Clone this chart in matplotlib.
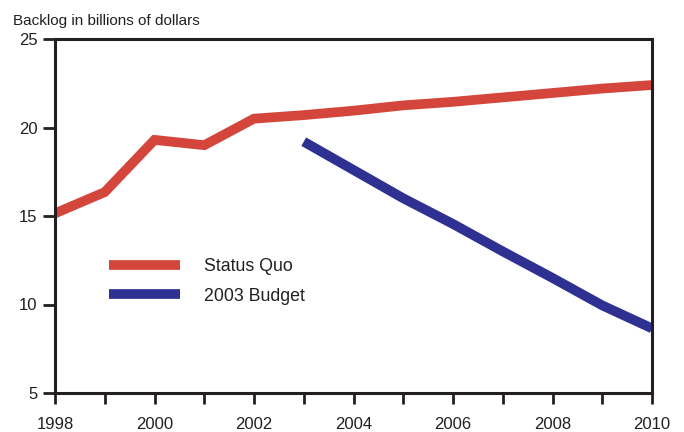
import matplotlib
matplotlib.use("Agg")
import matplotlib.pyplot as plt
from matplotlib.ticker import MultipleLocator

plt.rcParams['font.family'] = ['Liberation Sans', 'DejaVu Sans']

years_sq = [1998, 1999, 2000, 2001, 2002, 2003, 2004, 2005, 2006, 2007, 2008, 2009, 2010]
status_quo = [15.15, 16.35, 19.3, 19.0, 20.5, 20.7, 20.95, 21.25, 21.45, 21.7, 21.95, 22.2, 22.4]
years_b = [2003, 2004, 2005, 2006, 2007, 2008, 2009, 2010]
budget = [19.2, 17.6, 16.0, 14.55, 13.0, 11.5, 9.95, 8.65]
xtick_labels = [1998, 2000, 2002, 2004, 2006, 2008, 2010]
ytick_vals = [5, 10, 15, 20, 25]

red = '#d4463b'
blue = '#2e3192'
ink = '#231f20'

fig = plt.figure(figsize=(6.84, 4.32), dpi=100)
ax = fig.add_axes([55/684, 39/432, 597/684, 354/432])

ax.plot(years_sq, status_quo, color=red, lw=7, solid_capstyle='butt', solid_joinstyle='miter', label='Status Quo')
ax.plot(years_b, budget, color=blue, lw=7, solid_capstyle='butt', solid_joinstyle='miter', label='2003 Budget')

ax.set_xlim(1998, 2010)
ax.set_ylim(5, 25)
ax.set_xticks(xtick_labels)
ax.set_xticklabels([str(v) for v in xtick_labels])
ax.xaxis.set_minor_locator(MultipleLocator(1))
ax.set_yticks(ytick_vals)

for s in ax.spines.values():
    s.set_linewidth(2.2)
    s.set_color(ink)
ax.tick_params(axis='both', which='both', direction='out', width=2, color=ink,
               labelsize=12, labelcolor=ink)
ax.tick_params(axis='x', which='both', length=8, pad=9)
ax.tick_params(axis='y', which='major', length=8.5, pad=4)

fig.text(13/684, 1 - 21/432, 'Backlog in billions of dollars', fontsize=11, color=ink,
         ha='left', va='center')

leg = ax.legend(loc='upper left', bbox_to_anchor=(0.091, 0.38), frameon=False,
                handlelength=4.0, handletextpad=1.33, labelspacing=0.68, fontsize=12.8,
                borderaxespad=0, borderpad=0)
for t in leg.get_texts():
    t.set_color(ink)

fig.savefig('out.png', dpi=100)
